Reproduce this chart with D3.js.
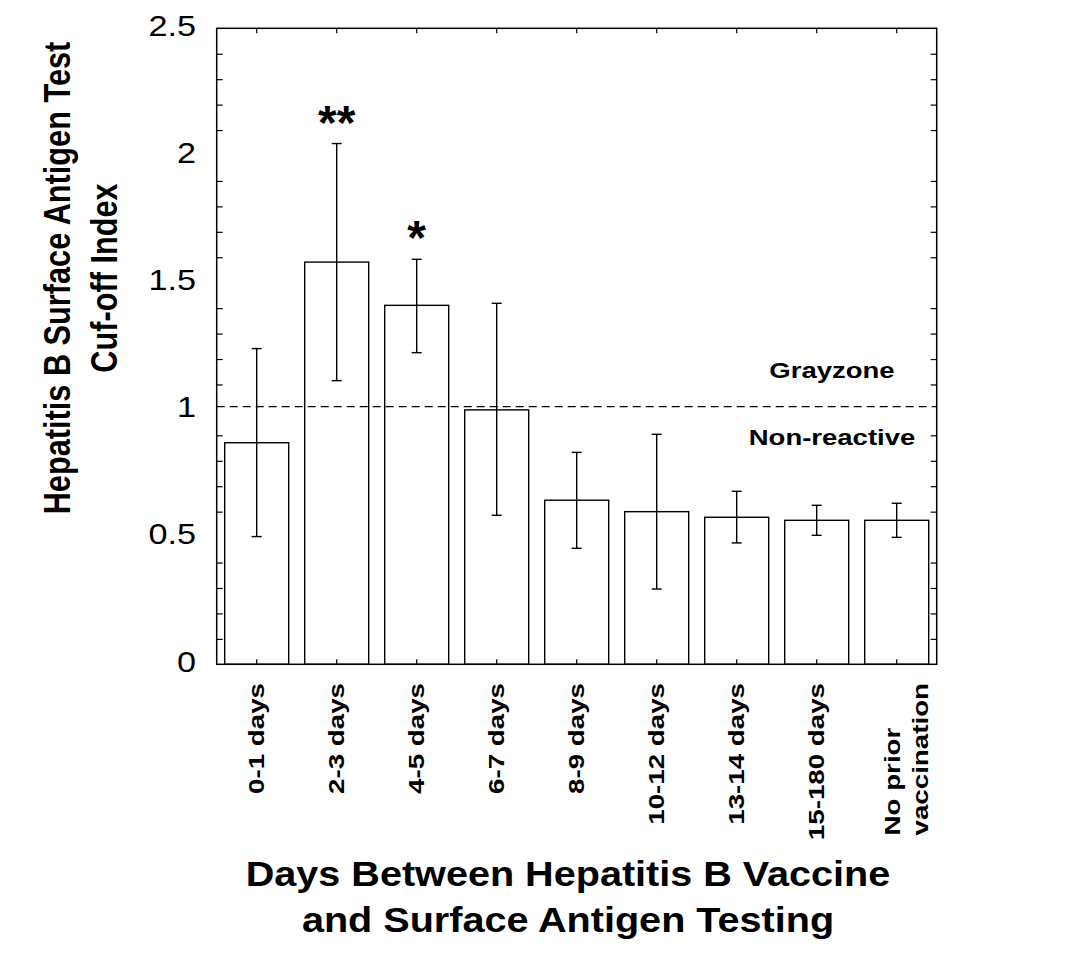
<!DOCTYPE html>
<html>
<head>
<meta charset="utf-8">
<script src="https://cdn.jsdelivr.net/npm/d3@7"></script>
<style>
  html, body { margin: 0; padding: 0; background: #fff; }
  svg { display: block; }
  text { font-family: "Liberation Sans", Arial, sans-serif; fill: #000; }
</style>
</head>
<body>
<svg id="chart" width="1080" height="954"></svg>
<script>
// ---- data ----
const categories = ["0-1 days", "2-3 days", "4-5 days", "6-7 days", "8-9 days",
  "10-12 days", "13-14 days", "15-180 days", "No prior\nvaccination"];
const means   = [0.871, 1.581, 1.411, 1.000, 0.645, 0.600, 0.578, 0.566, 0.566];
const errHigh = [1.241, 2.047, 1.592, 1.419, 0.833, 0.904, 0.680, 0.625, 0.633];
const errLow  = [0.502, 1.115, 1.225, 0.586, 0.456, 0.296, 0.477, 0.507, 0.499];
const significance = ["", "**", "*", "", "", "", "", "", ""];
const yTickLabels = [0, 0.5, 1, 1.5, 2, 2.5];
const yMinorTicks = [0.1,0.2,0.3,0.4,0.6,0.7,0.8,0.9,1.1,1.2,1.3,1.4,1.6,1.7,1.8,1.9,2.1,2.2,2.3,2.4];
const cutoff = 1.013;
const zoneLabels = ["Grayzone", "Non-reactive"];
const yTitleLines = ["Hepatitis B Surface Antigen Test", "Cuf-off Index"];
const xTitleLines = ["Days Between Hepatitis B Vaccine", "and Surface Antigen Testing"];

// ---- layout ----
const L = 216.7, R = 936.7, T = 28.3, B = 664.3;
const svg = d3.select("#chart");

const x = d3.scaleBand().domain(categories).range([L, R]).paddingInner(0.2).paddingOuter(0.1);
const y = d3.scaleLinear().domain([0, 2.5]).range([B, T]);

const rows = categories.map((c, i) => ({c, m: means[i], hi: errHigh[i], lo: errLow[i], s: significance[i]}));

// bars
svg.append("g").selectAll("rect").data(rows).join("rect")
  .attr("x", d => x(d.c)).attr("width", x.bandwidth())
  .attr("y", d => y(d.m)).attr("height", d => y(0) - y(d.m))
  .attr("fill", "#fff").attr("stroke", "#000").attr("stroke-width", 1.4);

// error bars
const eb = svg.append("g").attr("stroke", "#000").attr("stroke-width", 1.4);
rows.forEach(d => {
  const cx = x(d.c) + x.bandwidth() / 2;
  eb.append("line").attr("x1", cx).attr("x2", cx).attr("y1", y(d.hi)).attr("y2", y(d.lo));
  eb.append("line").attr("x1", cx - 5).attr("x2", cx + 5).attr("y1", y(d.hi)).attr("y2", y(d.hi));
  eb.append("line").attr("x1", cx - 5).attr("x2", cx + 5).attr("y1", y(d.lo)).attr("y2", y(d.lo));
});

// significance stars
svg.append("g").selectAll("text").data(rows.filter(d => d.s)).join("text")
  .attr("x", d => x(d.c) + x.bandwidth() / 2).attr("y", d => y(d.hi) - 5)
  .attr("text-anchor", "middle").attr("font-size", 48).attr("font-weight", "bold")
  .text(d => d.s);

// cutoff dashed line
svg.append("line").attr("x1", L).attr("x2", R).attr("y1", y(cutoff)).attr("y2", y(cutoff))
  .attr("stroke", "#000").attr("stroke-width", 1.2).attr("stroke-dasharray", "8,5");

// zone labels
[[zoneLabels[0], -29], [zoneLabels[1], 38]].forEach(([t, off]) => {
  svg.append("text")
    .attr("transform", `translate(832,${y(cutoff) + off}) scale(1.25,1)`)
    .attr("text-anchor", "middle").attr("font-size", 22).attr("font-weight", "bold").text(t);
});

// frame
svg.append("rect").attr("x", L).attr("y", T).attr("width", R - L).attr("height", B - T)
  .attr("fill", "none").attr("stroke", "#000").attr("stroke-width", 1.5);

// minor ticks left/right (inward)
const tickStyle = g => { g.select(".domain").remove(); g.selectAll("line").attr("stroke", "#000").attr("stroke-width", 1.2); g.selectAll("text").remove(); };
svg.append("g").attr("transform", `translate(${L},0)`)
  .call(d3.axisLeft(y).tickValues(yMinorTicks).tickSize(-6).tickFormat("")).call(tickStyle);
svg.append("g").attr("transform", `translate(${R},0)`)
  .call(d3.axisRight(y).tickValues(yMinorTicks).tickSize(-6).tickFormat("")).call(tickStyle);
// category ticks top/bottom (inward)
svg.append("g").attr("transform", `translate(0,${T})`)
  .call(d3.axisTop(x).tickSize(-5).tickFormat("")).call(tickStyle);
svg.append("g").attr("transform", `translate(0,${B})`)
  .call(d3.axisBottom(x).tickSize(-5).tickFormat("")).call(tickStyle);

// y tick labels
svg.append("g").selectAll("text").data(yTickLabels).join("text")
  .attr("transform", d => `translate(196,${y(d)}) scale(1.18,1)`)
  .attr("text-anchor", "end").attr("dy", "0.25em").attr("font-size", 29)
  .text(d => d3.format("")(d));

// x tick labels (rotated)
categories.forEach(c => {
  const cx = x(c) + x.bandwidth() / 2;
  const lines = c.split("\n");
  const g = svg.append("g").attr("transform", `translate(${cx},683) rotate(-90) scale(1.26,1)`);
  if (lines.length === 1) {
    g.append("text").attr("x", 0).attr("y", 7.5).attr("text-anchor", "end")
      .attr("font-size", 22).attr("font-weight", "bold").text(lines[0]);
  } else {
    const ts = lines.map((ln, i) => g.append("text").attr("y", 3.5 + i * 28)
      .attr("text-anchor", "start").attr("font-size", 22).attr("font-weight", "bold").text(ln));
    const maxLen = d3.max(ts, t => t.node().getComputedTextLength());
    ts.forEach(t => t.attr("x", -maxLen));
  }
});

// y title
const yt = svg.append("g").attr("transform", "translate(70,278) rotate(-90) scale(0.83,1)");
yTitleLines.forEach((t, i) => {
  yt.append("text").attr("x", 0).attr("y", i * 47).attr("text-anchor", "middle")
    .attr("font-size", 37).attr("font-weight", "bold").text(t);
});

// x title
xTitleLines.forEach((t, i) => {
  svg.append("text").attr("transform", `translate(568,${886 + i * 46}) scale(1.1,1)`)
    .attr("text-anchor", "middle").attr("font-size", 36).attr("font-weight", "bold").text(t);
});
</script>
</body>
</html>
